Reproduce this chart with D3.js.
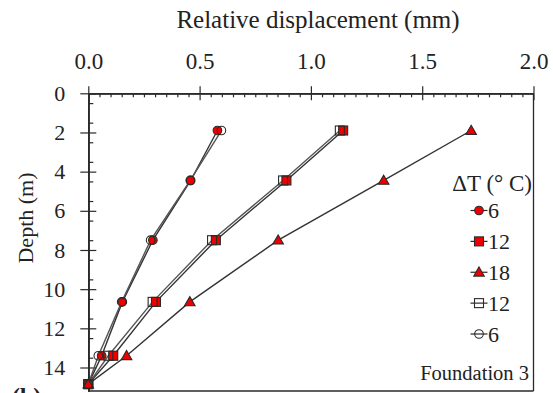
<!DOCTYPE html>
<html>
<head>
<meta charset="utf-8">
<script src="https://cdnjs.cloudflare.com/ajax/libs/d3/7.8.5/d3.min.js"></script>
<style>
  html, body { margin: 0; padding: 0; background: #fff; }
  svg { display: block; }
  svg text { font-family: "Liberation Serif", "Times New Roman", serif !important; fill: #222; }
</style>
</head>
<body>
<svg id="chart" width="553" height="393"></svg>
<script>
"use strict";

// depths of the measurement points (m)
const depths = [1.9, 4.45, 7.5, 10.65, 13.4, 14.85];

// relative displacement (mm) per series
const heat6   = [0.58, 0.46, 0.29, 0.153, 0.06, 0.0];
const heat12  = [1.145, 0.89, 0.573, 0.304, 0.112, 0.0];
const heat18  = [1.72, 1.327, 0.853, 0.456, 0.172, 0.0];
const cool12  = [1.13, 0.875, 0.556, 0.289, 0.09, 0.0];
const cool6   = [0.598, 0.458, 0.28, 0.15, 0.045, 0.0];

const seriesNames = ["6", "12", "18", "12", "6"];
const xTicks = [0, 0.5, 1.0, 1.5, 2.0];
const yTicks = [0, 2, 4, 6, 8, 10, 12, 14];

const series = [
	{ name: seriesNames[0], values: heat6,  shape: "circle",   filled: true },
	{ name: seriesNames[1], values: heat12, shape: "square",   filled: true },
	{ name: seriesNames[2], values: heat18, shape: "triangle", filled: true },
	{ name: seriesNames[3], values: cool12, shape: "square",   filled: false },
	{ name: seriesNames[4], values: cool6,  shape: "circle",   filled: false }
];

const svg = d3.select("#chart");
const plotLeft = 88.3, plotRight = 533.5, plotTop = 93.3, plotBottom = 391;

const x = d3.scaleLinear().domain([0, 2]).range([plotLeft, plotRight]);
const y = d3.scaleLinear().domain([0, 15.2]).range([plotTop, plotBottom]);

const red = "#ee0000", ink = "#2a2a2a";

// frame
svg.append("line").attr("x1", plotRight).attr("x2", plotRight).attr("y1", plotTop).attr("y2", plotBottom)
	.attr("stroke", ink).attr("stroke-width", 1.3);
svg.append("line").attr("x1", plotLeft).attr("x2", plotRight).attr("y1", plotBottom).attr("y2", plotBottom)
	.attr("stroke", ink).attr("stroke-width", 1.6);

// top x axis: majors with labels, then inner halves and minor ticks
const xMinor = d3.range(0, 2.0001, 0.05).filter(v => Math.abs(v * 2 - Math.round(v * 2)) > 1e-6);
function styleAxis(g)
{
	g.selectAll("path,line").attr("stroke", ink).attr("stroke-width", 1.2);
	g.selectAll("text").attr("font-size", "23px").attr("fill", "#222");
}
svg.append("g").attr("transform", `translate(0,${plotTop})`)
	.call(d3.axisTop(x).tickValues(xTicks).tickFormat(d3.format(".1f")).tickSizeInner(7).tickSizeOuter(0).tickPadding(17))
	.call(styleAxis);
svg.append("g").attr("transform", `translate(0,${plotTop})`)
	.call(d3.axisBottom(x).tickValues(xTicks).tickFormat("").tickSizeInner(7).tickSizeOuter(0))
	.call(styleAxis);
svg.append("g").attr("transform", `translate(0,${plotTop})`)
	.call(d3.axisBottom(x).tickValues(xMinor).tickFormat("").tickSizeInner(4).tickSizeOuter(0))
	.call(styleAxis);

// left y axis
const yMinor = d3.range(0.5, 15.2, 1);
svg.append("g").attr("transform", `translate(${plotLeft},0)`)
	.call(d3.axisLeft(y).tickValues(yTicks).tickFormat(d3.format("d")).tickSizeInner(8).tickSizeOuter(0).tickPadding(15))
	.call(styleAxis)
	.call(g => g.selectAll("text").attr("font-size", "22px"));
svg.append("g").attr("transform", `translate(${plotLeft},0)`)
	.call(d3.axisRight(y).tickValues(yTicks).tickFormat("").tickSizeInner(8).tickSizeOuter(0))
	.call(styleAxis);
svg.append("g").attr("transform", `translate(${plotLeft},0)`)
	.call(d3.axisRight(y).tickValues(yMinor).tickFormat("").tickSizeInner(5).tickSizeOuter(0))
	.call(styleAxis);
svg.selectAll(".domain").attr("stroke-width", 1.6);

// axis titles
svg.append("text").attr("x", 318).attr("y", 28).attr("text-anchor", "middle")
	.attr("font-size", "25px").text("Relative displacement (mm)");
svg.append("text").attr("transform", "translate(33,218) rotate(-90)").attr("text-anchor", "middle")
	.attr("font-size", "22px").text("Depth (m)");

// marker drawing
function marker(g, shape, filled, cx, cy)
{
	let m;
	if (shape === "circle")
		m = g.append("circle").attr("cx", cx).attr("cy", cy).attr("r", 4.3);
	else if (shape === "square")
		m = g.append("rect").attr("x", cx - 4.5).attr("y", cy - 4.5).attr("width", 9).attr("height", 9);
	else
		m = g.append("path").attr("d", d3.symbol(d3.symbolTriangle, 48)()).attr("transform", `translate(${cx},${cy + 0.8})`);
	m.attr("fill", filled ? red : "none").attr("stroke", ink).attr("stroke-width", 1.1);
}

const line = d3.line().x(d => x(d[0])).y(d => y(d[1]));
const plot = svg.append("g");

// lines first, then markers (open markers are hollow)
for (let s of series)
{
	const pts = s.values.map((v, i) => [v, depths[i]]);
	plot.append("path").attr("d", line(pts)).attr("fill", "none")
		.attr("stroke", s.filled ? "#333" : "#555").attr("stroke-width", 1.4);
}
for (let s of series)
{
	const g = plot.append("g");
	s.values.forEach((v, i) => marker(g, s.shape, s.filled, x(v), y(depths[i])));
}

// legend
const legend = svg.append("g");
legend.append("text").attr("x", 532).attr("y", 191).attr("text-anchor", "end")
	.attr("font-size", "23px").text("\u0394T (\u00b0 C)");
const legY = d3.scalePoint().domain(d3.range(series.length)).range([210.5, 334]);
series.forEach((s, i) =>
{
	const ly = legY(i);
	legend.append("line").attr("x1", 470.5).attr("x2", 487.5).attr("y1", ly).attr("y2", ly)
		.attr("stroke", ink).attr("stroke-width", 1.2);
	marker(legend, s.shape, s.filled, 479, ly);
	legend.append("text").attr("x", 488).attr("y", ly + 7.5).attr("font-size", "22px").text(s.name);
});

svg.append("text").attr("x", 529).attr("y", 380).attr("text-anchor", "end")
	.attr("font-size", "20.5px").text("Foundation 3");

// panel label, cut off by the bottom edge as in the source figure
svg.append("text").attr("x", 12).attr("y", 404).attr("font-size", "24px")
	.attr("font-weight", "bold").text("(b)");
</script>
</body>
</html>
